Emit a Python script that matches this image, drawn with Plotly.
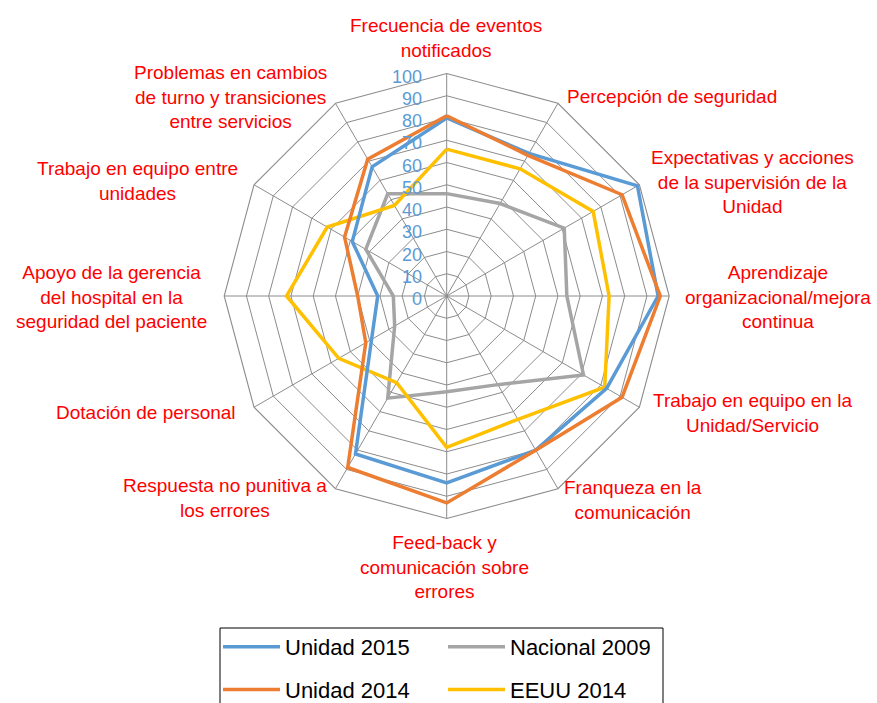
import plotly.graph_objects as go

categories = [
    "Frecuencia de eventos<br>notificados",
    "Percepción de seguridad",
    "Expectativas y acciones<br>de la supervisión de la<br>Unidad",
    "Aprendizaje<br>organizacional/mejora<br>continua",
    "Trabajo en equipo en la<br>Unidad/Servicio",
    "Franqueza en la<br>comunicación",
    "Feed-back y<br>comunicación sobre<br>errores",
    "Respuesta no punitiva a<br>los errores",
    "Dotación de personal",
    "Apoyo de la gerencia<br>del hospital en la<br>seguridad del paciente",
    "Trabajo en equipo entre<br>unidades",
    "Problemas en cambios<br>de turno y transiciones<br>entre servicios",
]

unidad_2015 = [80, 74, 99, 95, 83, 80, 84, 82, 39, 31, 49, 67]
unidad_2014 = [81, 73, 91, 96, 91, 80, 93, 89, 42, 40, 53, 71]
nacional_2009 = [46, 48, 61, 54, 71, 46, 43, 53, 27, 24, 42, 53]
eeuu_2014 = [66, 66, 76, 73, 82, 64, 68, 45, 56, 72, 62, 47]

series_names = ["Unidad 2015", "Unidad 2014", "Nacional 2009", "EEUU 2014"]
radial_ticks = [0, 10, 20, 30, 40, 50, 60, 70, 80, 90, 100]

# ---- styling / layout ----
W, H = 877, 703
ML, MR, MT, MB = 190, 187, 0, 0
PW, PH = W - ML - MR, H - MT - MB
CX, CY, R = 446.7, 296.0, 222.5

colors = {"Unidad 2015": "#5B9BD5", "Unidad 2014": "#ED7D31",
          "Nacional 2009": "#A5A5A5", "EEUU 2014": "#FFC000"}
legend_of = {"Unidad 2015": "legend", "Unidad 2014": "legend",
             "Nacional 2009": "legend2", "EEUU 2014": "legend2"}
ranks = {"Unidad 2015": 1, "Unidad 2014": 2, "Nacional 2009": 1, "EEUU 2014": 2}
grid_c = "#8C8C8C"

# label centre positions in pixels (style only)
label_pos = [(446, 38), (672, 96), (752, 182), (778, 297), (752, 413), (633, 500),
             (444, 567), (225, 498), (146, 412), (111, 297), (137, 181), (230, 97)]


def px_x(px):
    return (px - ML) / PW


def px_y(py):
    return 1 - (py - MT) / PH


fig = go.Figure()
data_map = {"Unidad 2015": unidad_2015, "Unidad 2014": unidad_2014,
            "Nacional 2009": nacional_2009, "EEUU 2014": eeuu_2014}
for name in ["Nacional 2009", "EEUU 2014", "Unidad 2015", "Unidad 2014"]:
    vals = data_map[name]
    fig.add_trace(go.Scatterpolar(
        r=vals + vals[:1], theta=categories + categories[:1],
        mode="lines", name=name, legendrank=ranks[name],
        legend=legend_of[name], legendgroup=name,
        line=dict(color=colors[name], width=3.5),
        hoverinfo="skip",
    ))

annotations = []
for txt, (lx, ly) in zip(categories, label_pos):
    annotations.append(dict(
        text=txt, x=px_x(lx), y=px_y(ly), xref="paper", yref="paper",
        xanchor="center", yanchor="middle", align="center", showarrow=False,
        font=dict(color="#FF0000", size=19, family="Liberation Sans, Arial, sans-serif"),
    ))

legend_style = dict(orientation="v", yanchor="top", xanchor="left",
                    bgcolor="rgba(0,0,0,0)", borderwidth=0, itemwidth=57,
                    traceorder="grouped", tracegroupgap=11,
                    font=dict(size=22, color="#000000"))

fig.update_layout(
    width=W, height=H,
    margin=dict(l=ML, r=MR, t=MT, b=MB, autoexpand=False),
    paper_bgcolor="white", plot_bgcolor="white",
    font=dict(family="Liberation Sans, Arial, sans-serif"),
    polar=dict(
        domain=dict(x=[px_x(CX - R), px_x(CX + R)], y=[px_y(CY + R), px_y(CY - R)]),
        gridshape="linear", bgcolor="white",
        radialaxis=dict(range=[0, 100], tickvals=radial_ticks, angle=90,
                        showline=False, gridcolor=grid_c, gridwidth=1.1,
                        ticks="outside", ticklen=8, tickcolor="rgba(0,0,0,0)",
                        side="counterclockwise",
                        tickfont=dict(color="#5B9BD5", size=18)),
        angularaxis=dict(direction="clockwise", rotation=90, showticklabels=False,
                         ticks="", linecolor=grid_c, linewidth=1.1,
                         gridcolor=grid_c, gridwidth=1.1),
    ),
    showlegend=True,
    legend=dict(x=px_x(218), y=px_y(626), **legend_style),
    legend2=dict(x=px_x(443), y=px_y(626), **legend_style),
    shapes=[dict(type="rect", xref="paper", yref="paper",
                 x0=px_x(220), x1=px_x(663), y0=px_y(628), y1=px_y(720),
                 line=dict(color="#000000", width=1), fillcolor="rgba(0,0,0,0)")],
    annotations=annotations,
)

fig.write_html("out.html", config={"displayModeBar": False},
               post_script="document.body.style.margin='0px';document.body.style.padding='0px';")
